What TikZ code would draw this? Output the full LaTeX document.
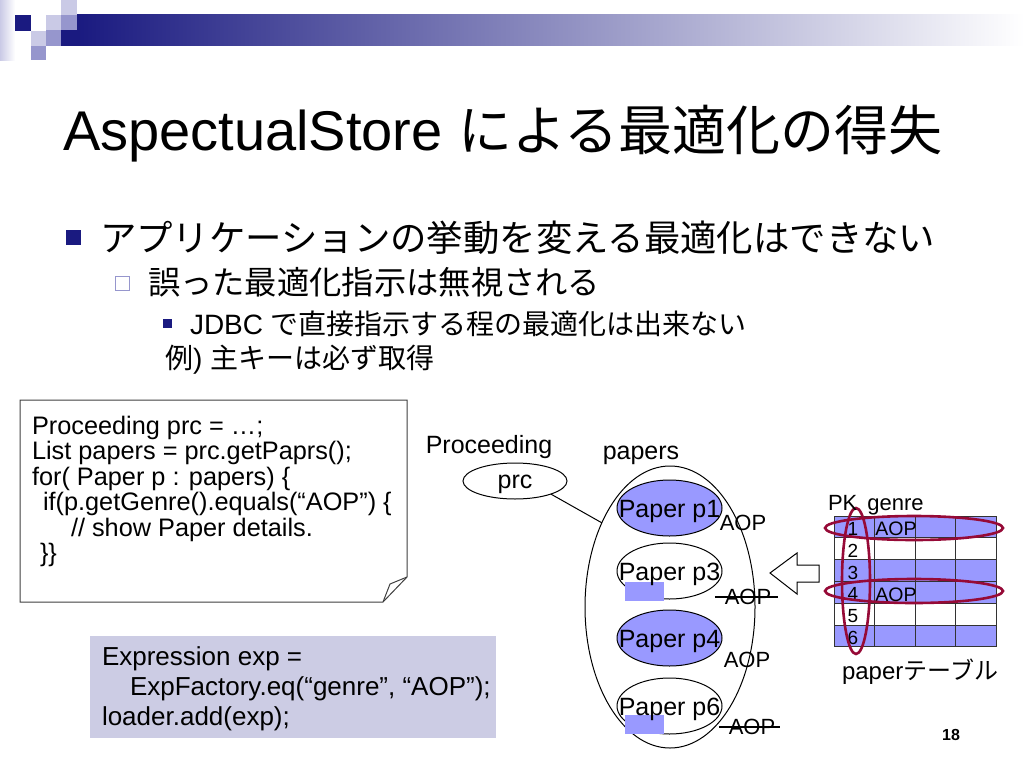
\documentclass[tikz,border=0pt]{standalone}
\usepackage{fontspec}
\setmainfont{Liberation Sans}
\newfontfamily\cjk{Noto Sans CJK JP}
\usetikzlibrary{positioning,calc,arrows.meta,shapes.geometric}

\newcommand{\fsz}[1]{\fontsize{#1}{#1}\selectfont}
\definecolor{navy}{RGB}{26,26,128}
\definecolor{lav}{RGB}{202,202,230}
\definecolor{lavmid}{RGB}{150,150,205}
\definecolor{paperblue}{RGB}{153,153,255}
\definecolor{expbg}{RGB}{204,204,228}
\definecolor{selred}{RGB}{150,10,55}

\begin{document}
\begin{tikzpicture}[x=1pt, y=-1pt, line width=1pt, every node/.style={inner sep=0pt, outer sep=0pt},
    paper/.style={ellipse, draw, minimum width=105pt, minimum height=56pt},
    aop/.style={font=\fsz{22}},
    strike/.style={line width=1.8pt},
    selring/.style={ellipse, draw=selred, line width=2.6pt},
    codeline/.style={anchor=base west, font=\fsz{25.3}},
    expline/.style={anchor=base west, font=\fsz{26}},
    bullet/.style={fill=navy, minimum size=#1}]

    \useasboundingbox (0,0) rectangle (1024,768);

    % header decoration
    \shade[left color=lav, right color=white] (0,0) rectangle (15,60);
    \fill[navy] (15,15) rectangle (31,31);
    \fill[lav] (31,31) rectangle (46,46);
    \fill[lavmid] (31,46) rectangle (46,60);
    \fill[lav] (46,15) rectangle (61,30);
    \fill[lavmid] (46,30) rectangle (61,46);
    \fill[lav] (61,0) rectangle (77,15);
    \fill[lavmid] (61,15) rectangle (77,30);
    \fill[navy] (61,30) rectangle (77,46);
    \shade[left color=navy, right color=white] (77,15) rectangle (1024,46);

    \node[anchor=base west, font=\fsz{56}] (title) at (63,150) {AspectualStore {\cjk\fsz{54}による最適化の得失}};

    \node[bullet=15pt] (bul1) at (73.5,237) {};
    \node[anchor=base west, font=\cjk\fsz{36.4}] (item1) at (100,251) {アプリケーションの挙動を変える最適化はできない};
    \node[draw=lavmid, minimum size=14pt] (bul2) at (122.5,283.5) {};
    \node[anchor=base west, font=\cjk\fsz{32.3}] (item2) at (148,294) {誤った最適化指示は無視される};
    \node[bullet=9pt] (bul3) at (167.5,323.5) {};
    \node[anchor=base west, font=\fsz{28}] (item3) at (190,334) {JDBC {\cjk で直接指示する程の最適化は出来ない}};
    \node[anchor=base west, font=\fsz{28}] (item4) at (165,368) {{\cjk 例}) {\cjk 主キーは必ず取得}};

    % code note
    \draw[black!75, fill=white] (20,400) -- (407,400) -- (407,577) -- (383,602) -- (20,602) -- cycle;
    \draw[black!75] (383,602) -- (390,584) -- (407,577);
    \node[codeline] (c1) at (32,434) {Proceeding prc = …;};
    \node[codeline] (c2) at (32,459.5) {List papers = prc.getPaprs();};
    \node[codeline] (c3) at (32,485) {for( Paper p : papers) \{};
    \node[codeline] (c4) at (43,510.5) {if(p.getGenre().equals(“AOP”) \{};
    \node[codeline] (c5) at (71,536) {// show Paper details.};
    \node[codeline] (c6) at (40,561.5) {\}\}};

    \fill[expbg] (90,636) rectangle (496,738);
    \node[expline] (e1) at (102,665) {Expression exp =};
    \node[expline] (e2) at (130,695) {ExpFactory.eq(“genre”, “AOP”);};
    \node[expline] (e3) at (102,725) {loader.add(exp);};

    % objects
    \node[font=\fsz{25}] (proclbl) at (489,447) {Proceeding};
    \node[ellipse, draw, minimum width=104pt, minimum height=36pt,
          label={[font=\fsz{25}, yshift=-3pt]center:prc}] (prc) at (515,481) {};
    \node[font=\fsz{25}] (paperslbl) at (641,455) {papers};
    \node[ellipse, draw, minimum width=170pt, minimum height=282pt] (pbag) at (670,607) {};
    \draw (prc.-20) -- (pbag.129);

    \node[paper, fill=paperblue] (p1) at (669.5,508) {};
    \node[paper, fill=white] (p3) at (669.5,571) {};
    \node[paper, fill=paperblue] (p4) at (669.5,638) {};
    \node[paper, fill=white] (p6) at (669.5,706) {};
    \fill[paperblue] (625,582) rectangle (664,601);
    \fill[paperblue] (625,715) rectangle (664,734);
    \foreach \p in {1,3,4,6}
        \node[font=\fsz{25}, yshift=-3pt] (t\p) at (p\p) {Paper p\p};

    \node[aop] (a1) at (743,523) {AOP};
    \node[aop] (a3) at (748,597) {AOP};
    \node[aop] (a4) at (747,660) {AOP};
    \node[aop] (a6) at (752,727) {AOP};
    \draw[strike] ([xshift=-10pt]a3.west) -- ([xshift=7pt]a3.east);
    \draw[strike] ([xshift=-10pt]a6.west) -- ([xshift=5pt]a6.east);

    \draw[fill=white] (770,573) -- (797,553) -- (797,565) -- (819,565) -- (819,582) -- (797,582) -- (797,594) -- cycle;

    % paper table
    \foreach \r/\c in {1/paperblue,2/white,3/paperblue,4/paperblue,5/white,6/paperblue}
        \fill[\c] (834,{516+(\r-1)*21.83}) rectangle (996,{516+\r*21.83});
    \foreach \r in {0,...,6}
        \draw[black!80] (834,{516+\r*21.83}) -- (996,{516+\r*21.83});
    \foreach \c in {0,...,4}
        \draw[black!80] ({834+\c*40.5},516) -- ({834+\c*40.5},647);
    \foreach \r in {1,...,6}
        \node[font=\fsz{19}, yshift=-2pt] (pk\r) at (853,{516+(\r-0.5)*21.83}) {\r};
    \node[font=\fsz{19.5}, yshift=-2pt] (g1) at (896,{516+0.5*21.83}) {AOP};
    \node[font=\fsz{19.5}, yshift=-2pt] (g4) at (896,{516+3.5*21.83}) {AOP};

    \node[selring, minimum width=178pt, minimum height=24pt] (sel1) at (914,528) {};
    \node[selring, minimum width=178pt, minimum height=24pt] (sel4) at (914,591) {};
    \node[selring, minimum width=28pt, minimum height=146pt] (pkcol) at (856,581) {};

    \node[anchor=base west, font=\fsz{22}] (cols) at (828,510) {PK\hspace{10pt}genre};
    \node[font=\fsz{24}] (tbllbl) at (920,672) {paper{\cjk テーブル}};

    \node[font=\bfseries\fsz{16}] (pageno) at (951,735) {18};

\end{tikzpicture}
\end{document}
